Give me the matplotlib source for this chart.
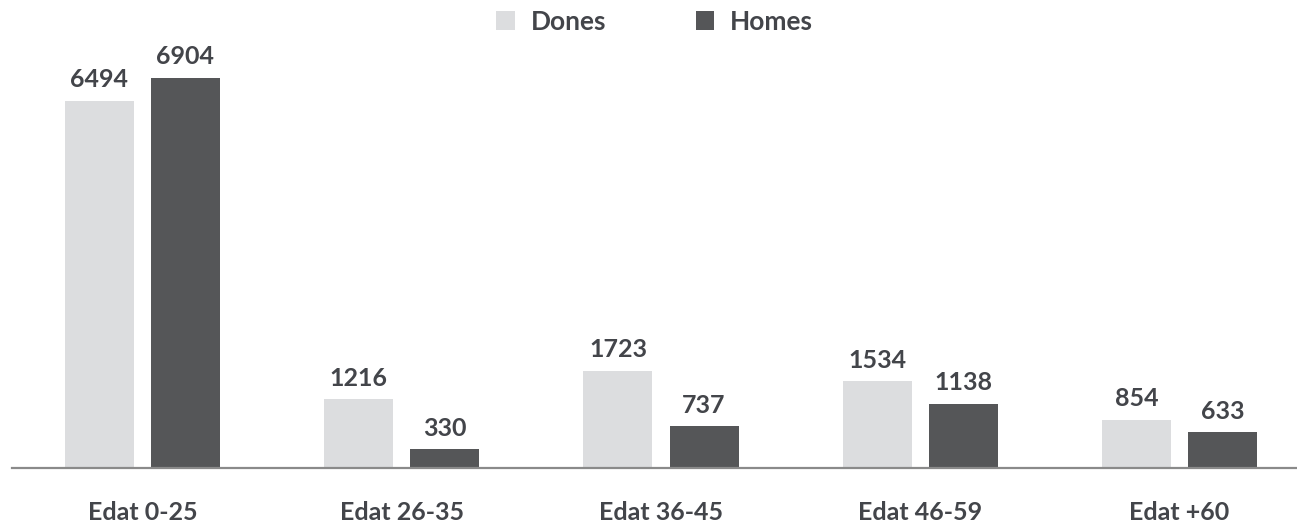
import matplotlib.pyplot as plt
import numpy as np

categories = ['Edat 0-25', 'Edat 26-35', 'Edat 36-45', 'Edat 46-59', 'Edat +60']
dones = [6494, 1216, 1723, 1534, 854]
homes = [6904, 330, 737, 1138, 633]

color_dones = '#dcdddf'
color_homes = '#555658'
text_color = '#43454a'

plt.rcParams['font.family'] = ['Lato', 'DejaVu Sans']

fig = plt.figure(figsize=(12.97, 5.29), dpi=100)
ax = fig.add_axes([12 / 1297, (529 - 468) / 529, 1 - 12 / 1297, 468 / 529])

x = np.arange(len(categories))
w = 0.266
off = 0.166

b1 = ax.bar(x - off, dones, w, color=color_dones, label='Dones')
b2 = ax.bar(x + off, homes, w, color=color_homes, label='Homes')

for bars in (b1, b2):
    for r in bars:
        ax.annotate(str(int(r.get_height())), (r.get_x() + r.get_width() / 2, r.get_height()),
                    xytext=(0, 7), textcoords='offset points', ha='center', va='bottom',
                    fontsize=18, color=text_color, fontweight='bold')

ax.set_xlim(-0.503, 4.453)
ax.set_ylim(0, 8285)
ax.set_xticks(x)
ax.set_xticklabels(categories, fontsize=18, color=text_color, fontweight='bold')
ax.tick_params(axis='x', length=0, pad=24)
ax.set_yticks([])
for s in ['top', 'left', 'right']:
    ax.spines[s].set_visible(False)
ax.spines['bottom'].set_color('#8a8a8a')
ax.spines['bottom'].set_linewidth(1.6)

leg = ax.legend(loc='upper center', bbox_to_anchor=(0.5, 1.03), ncol=2, frameon=False,
                handlelength=0.7, handleheight=0.7, handletextpad=0.6, columnspacing=3.4,
                prop={'size': 19, 'weight': 'bold'})
for t in leg.get_texts():
    t.set_color(text_color)

fig.savefig('out.png', dpi=100)
